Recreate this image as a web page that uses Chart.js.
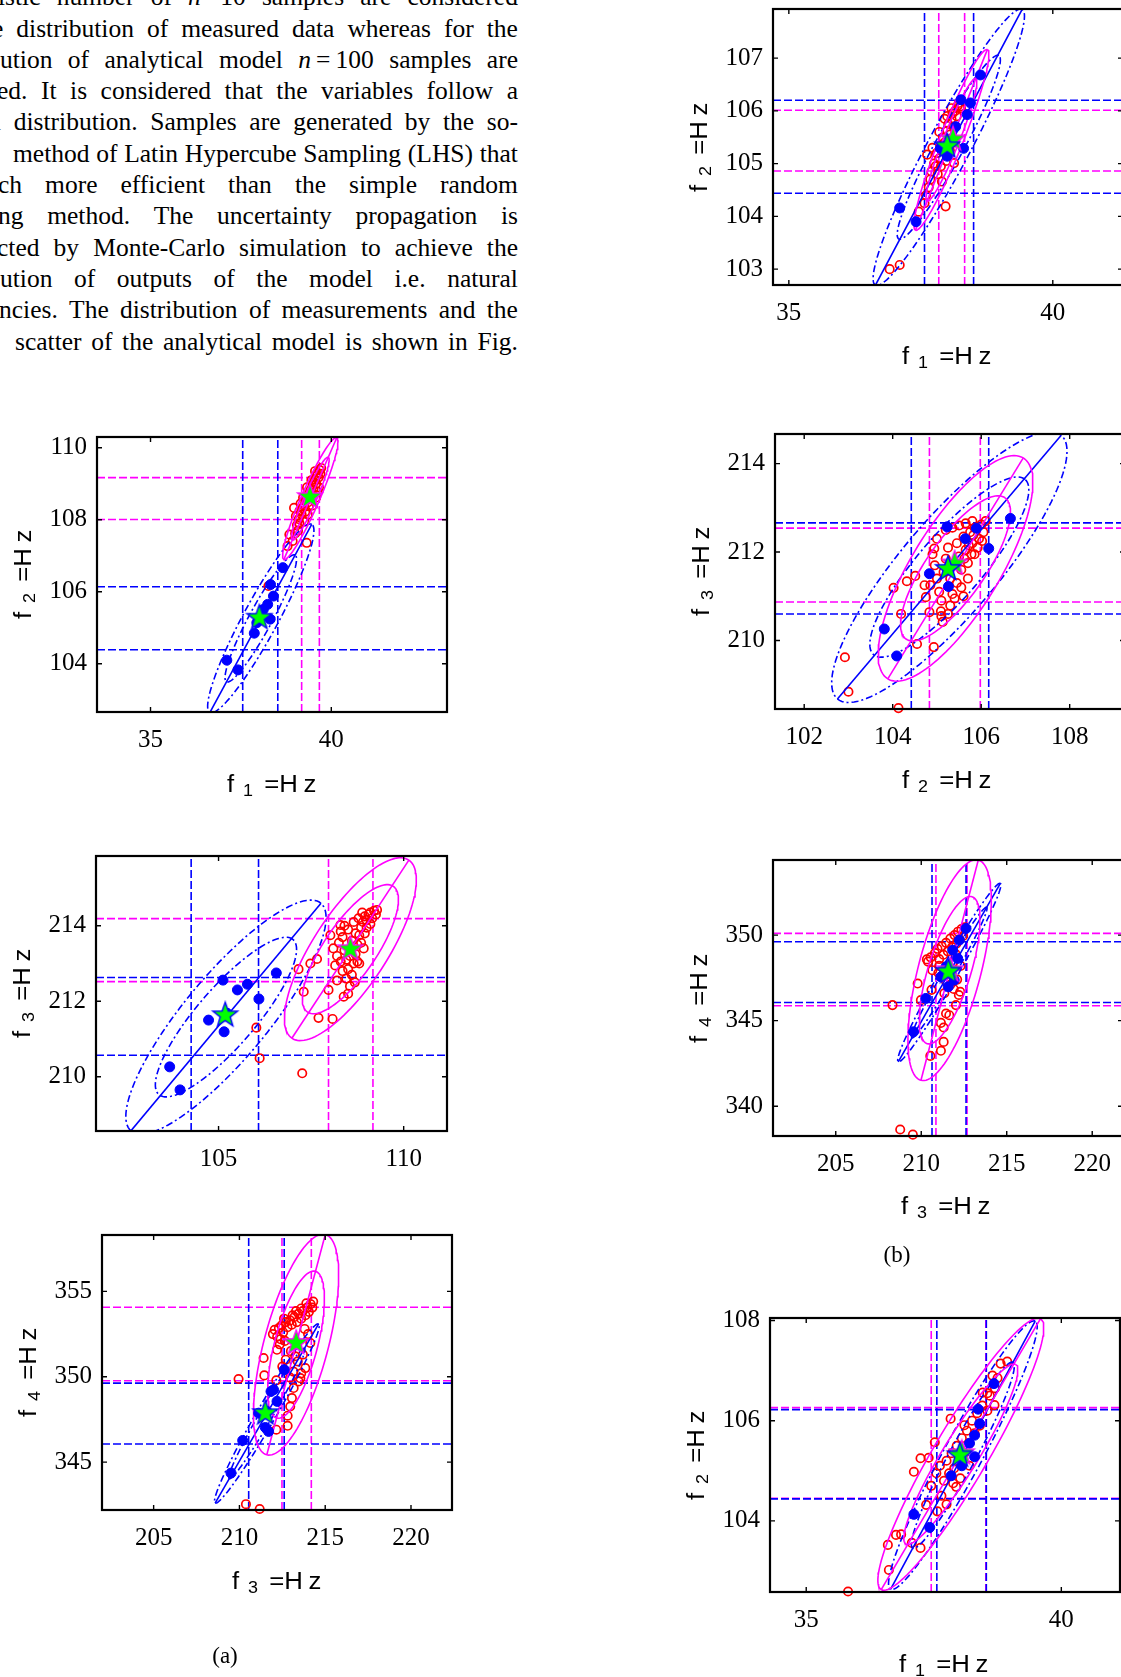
<!DOCTYPE html>
<html>
<head>
<meta charset="utf-8">
<script src="https://cdn.jsdelivr.net/npm/chart.js@4.4.1/dist/chart.umd.min.js"></script>
<style>
  body { margin: 0; width: 1121px; height: 1677px; position: relative; overflow: hidden; background: #fff;
         font-family: "Liberation Serif", "Times New Roman", serif; color: #000; }
  .ln { position: absolute; display: flex; justify-content: space-between; font-size: 25.5px;
        line-height: 31.3px; height: 31.3px; white-space: nowrap; }
  .cv { position: absolute; }
  .ttl { position: absolute; font-family: "Liberation Sans", Arial, sans-serif; font-size: 23px;
         line-height: 23px; white-space: nowrap; }
  .sb { font-size: 16px; margin-left: 8px; position: relative; top: 4px; }
  .cap { position: absolute; font-size: 23px; line-height: 23px; transform: translateX(-50%); }
</style>
</head>
<body>
<script>
// ---- (a) f1 vs f2 ----
const a1XRange = [33.52, 43.2];
const a1YRange = [102.66, 110.3];
const a1XTicks = [35, 40];
const a1YTicks = [104, 106, 108, 110];
const a1Blue = [[37.11,104.10],[37.42,103.83],[37.87,104.85],[38.24,105.65],[38.40,105.88],[38.32,106.20],[38.31,105.24],[38.66,106.67],[37.94,105.14],[38.12,105.51]];
const a1Red = [[38.97,108.33],[38.84,107.59],[38.93,107.41],[38.79,107.27],[39.32,107.36],[38.26,106.16],
  [39.05,107.85],[39.10,108.02],[39.12,107.90],[39.18,108.15],[39.20,108.32],[39.25,108.40],[39.28,108.22],[39.30,108.55],
  [39.35,108.48],[39.38,108.70],[39.40,108.60],[39.42,108.82],[39.45,108.75],[39.48,108.95],[39.50,108.85],[39.52,109.05],
  [39.55,109.12],[39.58,109.00],[39.60,109.22],[39.62,109.30],[39.65,109.18],[39.68,109.38],[39.70,109.28],[39.72,109.44],
  [39.15,108.45],[39.22,108.62],[39.33,108.90],[39.45,109.10],[39.55,109.35],[39.08,107.70],[39.00,107.62],[39.25,107.95],
  [39.35,108.15],[39.48,108.40],[39.58,108.62],[39.66,108.90],[39.02,108.10],[39.12,108.25],[39.38,108.38],[39.62,108.78]];
const a1Stars = [[38.01,105.28],[39.41,108.63]];
const a1BlueEll = [[38.05,105.26,2.97,0.48,61.7],[38.05,105.26,2.0,0.32,61.7]];
const a1MagEll = [[39.42,108.59,1.84,0.25,66.6],[39.42,108.59,1.25,0.17,66.6]];
const a1BlueV = [37.55, 38.52], a1BlueH = [104.39, 106.14];
const a1MagV = [39.18, 39.67], a1MagH = [108.01, 109.17];

// ---- (a) f2 vs f3 ----
const a2XRange = [101.69, 111.17];
const a2YRange = [208.56, 215.85];
const a2XTicks = [105, 110];
const a2YTicks = [210, 212, 214];
const a2Blue = [[103.68,210.26],[103.96,209.65],[104.73,211.50],[105.12,212.56],[105.15,211.19],[105.51,212.30],[105.78,212.45],[106.09,212.06],[106.56,212.75],[105.23,211.68]];
const a2Red = [[106.02,211.30],[106.11,210.49],[107.26,210.09],[107.16,212.85],[107.30,212.25],[107.70,211.56],[108.08,211.53],
  [107.97,212.30],[107.48,213.00],[107.66,213.12],[108.02,213.75],[108.29,214.02],[108.38,212.12],
  [108.10,213.40],[108.20,213.20],[108.15,212.95],[108.30,213.05],[108.25,213.55],[108.35,213.70],[108.40,213.35],[108.45,213.10],
  [108.50,212.85],[108.45,212.60],[108.55,212.40],[108.60,212.70],[108.65,213.00],[108.70,213.25],[108.75,213.50],[108.80,213.75],
  [108.85,213.95],[108.90,214.10],[108.95,214.25],[109.00,214.15],[109.05,214.30],[109.10,214.35],[109.15,214.20],[109.20,214.40],
  [109.25,214.30],[109.28,214.42],[108.70,213.80],[108.60,213.60],[108.50,213.90],[108.40,214.00],[108.30,213.85],[108.85,213.55],
  [108.95,213.80],[109.00,213.95],[108.65,214.10],[108.78,214.20],[108.88,214.35],[108.75,213.05],[108.55,213.20],[108.35,212.80],
  [108.20,212.55],[108.50,212.20],[108.68,212.50],[108.80,213.00],[108.92,213.40],[109.10,214.05]];
const a2Stars = [[105.18,211.63],[108.56,213.38]];
const a2BlueEll = [[105.2,211.58,3.96,1.12,49.6],[105.2,211.58,2.74,0.78,48.5]];
const a2MagEll = [[108.56,213.38,2.84,0.99,56.2],[108.56,213.38,2.03,0.70,55]];
const a2BlueV = [104.26, 106.08], a2BlueH = [210.57, 212.63];
const a2MagV = [107.97, 109.17], a2MagH = [212.52, 214.19];

// ---- (a) f3 vs f4 ----
const a3XRange = [201.99, 222.39];
const a3YRange = [342.2, 358.3];
const a3XTicks = [205, 210, 215, 220];
const a3YTicks = [345, 350, 355];
const a3Blue = [[209.51,344.36],[210.19,346.27],[211.51,347.03],[211.99,349.24],[212.19,348.56],[212.61,350.41],[211.60,347.97],[211.84,349.14],[211.12,347.87],[211.70,346.80]];
const a3Red = [[209.95,349.87],[210.38,342.54],[211.18,342.26],[211.41,351.10],[211.45,350.08],[212.19,351.58],[212.15,349.79],
  [212.81,347.72],[212.81,347.13],[212.15,346.90],[213.84,350.51],[213.55,349.92],[214.13,351.98],
  [211.95,352.50],[212.05,352.75],[212.20,352.35],[212.30,352.85],[212.45,353.00],[212.55,352.60],[212.70,353.20],[212.80,352.90],
  [212.95,353.30],[213.05,353.05],[213.20,353.50],[213.35,353.20],[213.45,353.70],[213.60,353.40],[213.70,353.85],[213.85,353.60],
  [213.95,354.05],[214.05,353.80],[214.15,354.25],[214.25,354.05],[214.30,354.40],[213.90,354.30],[213.60,354.00],[213.30,353.85],
  [213.10,353.60],[212.60,353.40],[212.40,352.20],[212.65,352.10],[213.00,351.50],[213.25,351.20],[213.40,350.90],[213.70,351.30],
  [213.15,350.30],[212.95,349.95],[213.16,349.34],[213.45,349.73],[213.06,348.75],[212.96,348.26],[213.60,350.20],[212.70,351.00],
  [212.50,350.60],[213.80,352.80],[214.00,352.50],[212.35,351.90]];
const a3Stars = [[211.51,347.87],[213.31,351.98]];
const a3BlueEll = [[211.6,347.85,6.05,0.55,60.1],[211.6,347.85,4.4,0.38,60.1]];
const a3MagEll = [[213.3,351.88,6.67,1.87,75.2],[213.3,351.88,4.44,1.25,75.3]];
const a3BlueV = [210.54, 212.61], a3BlueH = [346.06, 349.63];
const a3MagV = [212.48, 214.19], a3MagH = [349.77, 354.07];

// ---- (b) f1 vs f2 ----
const b1XRange = [34.7, 41.33];
const b1YRange = [102.7, 107.93];
const b1XTicks = [35, 40];
const b1YTicks = [103, 104, 105, 106, 107];
const b1Blue = [[37.10,104.16],[37.41,103.90],[38.63,106.68],[38.44,106.15],[38.38,105.93],[38.26,106.21],[37.87,105.29],[38.00,105.14],[38.16,105.70],[38.31,105.29]];
const b1Red = [[36.91,103.00],[37.10,103.08],[37.46,104.09],[37.57,104.25],[37.97,104.19],[37.90,104.66],[37.62,105.17],[38.13,105.01],[38.24,106.08],
  [37.70,104.85],[37.75,105.00],[37.80,105.20],[37.85,105.10],[37.88,105.35],[37.92,105.50],[37.95,105.40],[38.00,105.62],
  [38.02,105.75],[38.05,105.55],[38.08,105.85],[38.10,105.95],[38.12,105.70],[38.15,106.00],[38.18,105.90],[38.20,106.10],
  [38.22,106.15],[38.26,106.05],[37.78,104.95],[37.68,104.70],[37.65,104.55],[37.82,104.80],[37.98,105.05],[38.05,105.25],
  [37.72,105.30],[37.85,105.60],[37.95,105.85],[38.15,105.40],[37.60,104.40],[37.88,104.95],[38.00,105.90],[38.08,106.05]];
const b1Stars = [[38.00,105.33],[38.11,105.46]];
const b1BlueEll = [[38.03,105.31,2.96,0.40,62],[38.03,105.31,1.98,0.27,61.4]];
const b1MagEll = [[38.08,105.45,1.84,0.22,68.3],[38.08,105.45,1.25,0.15,68.3]];
const b1BlueV = [37.57, 38.50], b1BlueH = [104.44, 106.20];
const b1MagV = [37.84, 38.33], b1MagH = [104.86, 106.01];

// ---- (b) f2 vs f3 ----
const b2XRange = [101.34, 109.25];
const b2YRange = [208.45, 214.67];
const b2XTicks = [102, 104, 106, 108];
const b2YTicks = [210, 212, 214];
const b2Blue = [[103.81,210.26],[104.09,209.65],[104.83,211.51],[105.23,212.57],[105.26,211.22],[105.64,212.30],[106.17,212.08],[106.66,212.76],[105.89,212.54],[105.28,211.68]];
const b2Red = [[102.92,209.62],[103.00,208.84],[104.13,208.47],[104.02,211.19],[104.32,211.34],[104.19,210.60],[104.55,209.92],
  [104.93,209.85],[104.51,211.46],[104.72,211.25],[104.83,210.64],[105.09,210.66],[105.13,210.42],[105.30,210.79],[104.75,210.98],[104.94,212.08],
  [104.90,211.95],[104.95,211.70],[105.00,211.40],[105.05,211.10],[105.10,210.90],[105.15,211.55],[105.20,211.85],[105.25,212.10],
  [105.30,211.40],[105.35,211.05],[105.40,211.75],[105.45,212.20],[105.50,211.90],[105.55,211.60],[105.60,212.35],[105.65,212.05],
  [105.70,211.75],[105.75,212.45],[105.80,212.20],[105.85,211.95],[105.90,212.55],[105.95,212.30],[106.00,212.62],[106.05,212.45],
  [106.10,212.70],[105.20,212.50],[105.35,212.55],[105.50,212.60],[105.65,212.65],[105.80,212.70],[105.10,210.55],[105.25,210.60],
  [105.40,210.95],[105.55,211.20],[105.70,211.40],[105.00,212.30],[104.85,211.25],[105.45,211.30],[105.60,211.00],[105.85,212.55],
  [105.72,212.15],[105.82,212.38],[105.92,212.10],[106.02,212.25],[105.62,211.85],[105.78,211.95]];
const b2Stars = [[105.25,211.62],[105.40,211.74]];
const b2BlueEll = [[105.28,211.66,3.91,1.08,49.7],[105.28,211.66,2.62,0.72,49.2]];
const b2MagEll = [[105.42,211.63,2.93,0.99,58.5],[105.42,211.63,1.95,0.66,55]];
const b2BlueV = [104.42, 106.17], b2BlueH = [210.60, 212.66];
const b2MagV = [104.83, 105.98], b2MagH = [210.87, 212.54];

// ---- (b) f3 vs f4 ----
const b3XRange = [201.33, 221.8];
const b3YRange = [338.26, 354.39];
const b3XTicks = [205, 210, 215, 220];
const b3YTicks = [340, 345, 350];
const b3Blue = [[209.55,344.35],[210.27,346.30],[211.58,346.98],[211.84,349.12],[212.13,348.64],[212.62,350.39],[211.45,348.15],[211.93,347.37],[211.15,347.56],[212.23,349.71]];
const b3Red = [[208.32,345.91],[208.77,338.64],[209.51,338.34],[209.79,347.17],[210.53,342.94],[211.15,343.24],[211.31,343.76],
  [211.15,344.87],[211.31,344.60],[211.64,345.32],[211.45,345.42],[212.28,346.69],[212.03,345.91],[210.33,348.58],[209.98,346.20],
  [210.40,348.45],[210.55,348.70],[210.80,348.95],[210.95,349.20],[211.05,348.60],[211.20,349.35],[211.30,348.85],[211.45,349.55],
  [211.55,349.05],[211.70,349.80],[211.80,349.30],[211.95,350.00],[212.05,349.50],[212.15,350.20],[212.25,349.75],[212.35,350.35],
  [212.45,349.95],[212.55,350.45],[211.00,347.80],[211.20,347.60],[211.45,347.30],[211.70,347.10],[211.90,346.85],[212.10,347.40],
  [212.20,346.50],[211.05,348.20],[210.65,347.95],[211.85,348.40],[212.00,348.90],[212.30,348.20],[210.60,346.80],[211.35,346.60]];
const b3Stars = [[211.58,347.86],[211.70,347.95]];
const b3BlueEll = [[211.64,347.81,6.01,0.5,60.2],[211.64,347.81,4.4,0.35,60.2]];
const b3MagEll = [[211.66,347.95,6.65,1.83,75.4],[211.66,347.95,4.49,1.25,73]];
const b3BlueV = [210.63, 212.62], b3BlueH = [346.06, 349.61];
const b3MagV = [210.86, 212.68], b3MagH = [345.87, 350.10];

// ---- (c) f1 vs f2 ----
const cXRange = [34.29, 41.15];
const cYRange = [102.58, 108.05];
const cXTicks = [35, 40];
const cYTicks = [104, 106, 108];
const cBlue = [[37.11,104.13],[37.42,103.87],[38.68,106.74],[38.37,106.23],[38.40,105.94],[38.30,105.71],[38.30,105.28],[37.84,104.90],[38.20,105.55],[38.05,105.10]];
const cRed = [[35.82,102.59],[36.60,103.52],[36.62,103.02],[36.76,103.72],[36.86,103.73],[37.07,103.56],[37.24,103.46],[37.11,104.98],
  [37.24,105.25],[37.40,105.26],[37.35,104.32],[37.57,104.19],[37.52,105.57],[37.83,106.04],[37.75,104.33],[38.81,107.14],[38.94,107.18],
  [38.69,106.31],[38.10,105.91],[38.46,106.56],[37.94,104.68],
  [37.55,104.95],[37.62,105.10],[37.70,104.80],[37.75,105.20],[37.80,104.95],[37.85,105.35],[37.90,105.05],[37.95,105.50],
  [38.00,105.15],[38.05,105.65],[38.10,105.35],[38.15,105.80],[38.20,105.55],[38.25,106.00],[38.30,105.75],[38.35,106.15],
  [38.40,105.90],[38.45,106.30],[38.55,106.20],[38.60,106.50],[38.70,106.65],[38.75,106.85],[37.88,104.75],[38.02,104.85],
  [37.65,104.50],[38.20,105.10],[38.55,106.55],[38.65,106.90],[37.45,104.70]];
const cStars = [[38.01,105.31],[38.05,105.35]];
const cBlueEll = [[38.07,105.31,3.03,0.38,62.1],[38.07,105.31,2.1,0.26,62.1]];
const cMagEll = [[38.03,105.33,3.12,0.53,60],[38.03,105.33,2.09,0.35,59]];
const cBlueV = [37.56, 38.53], cBlueH = [104.44, 106.22];
const cMagV = [37.45, 38.52], cMagH = [104.45, 106.26];

// ---- text of the page ----
const textLines = [
  ['istic','number','of','<i>n</i>&#8201;=10','samples','are','considered'],
  ['e','distribution','of','measured','data','whereas','for','the'],
  ['ution','of','analytical','model','<i>n</i>&#8201;=&#8201;100','samples','are'],
  ['ed.','It','is','considered','that','the','variables','follow','a'],
  ['l','distribution.','Samples','are','generated','by','the','so-'],
  ['method','of','Latin','Hypercube','Sampling','(LHS)','that'],
  ['ch','more','efficient','than','the','simple','random'],
  ['ng','method.','The','uncertainty','propagation','is'],
  ['cted','by','Monte-Carlo','simulation','to','achieve','the'],
  ['ution','of','outputs','of','the','model','i.e.','natural'],
  ['ncies.','The','distribution','of','measurements','and','the'],
  ['scatter','of','the','analytical','model','is','shown','in','Fig.']
];
const lineStarts = [-2, -8, 0, -3, -6, 13, -2, -2, -3, 0, -1, 15];

const BLUE = '#0000ff', MAG = '#ff00ff', RED = '#ff0000';
const SERIF = "'Liberation Serif', 'Times New Roman', serif";
const PL = 90, PR = 30, PT = 30, PB = 60;
const TITLE_STRETCH = 1.12;

textLines.forEach((words, i) => {
  const d = document.createElement('div');
  d.className = 'ln';
  d.style.left = lineStarts[i] + 'px';
  d.style.width = (518 - lineStarts[i]) + 'px';
  d.style.top = (-18.8 + 31.3 * i) + 'px';
  d.innerHTML = words.map(w => `<span>${w}</span>`).join('');
  document.body.appendChild(d);
});

function makeStar(edge) {
  const c = document.createElement('canvas');
  c.width = c.height = 30;
  const g = c.getContext('2d');
  g.beginPath();
  for (let i = 0; i < 10; i++) {
    const r = i % 2 ? 5.3 : 13, ang = -Math.PI / 2 + i * Math.PI / 5;
    g.lineTo(15 + r * Math.cos(ang), 15 + r * Math.sin(ang));
  }
  g.closePath();
  g.fillStyle = '#00ff00';
  g.fill();
  g.strokeStyle = edge;
  g.lineWidth = 1.4;
  g.stroke();
  return c;
}
const blueStar = makeStar(BLUE), magStar = makeStar(MAG);

function ellipsePts(e) {
  const [cx, cy, a, b, deg] = e;
  const th = deg * Math.PI / 180, pts = [];
  for (let i = 0; i <= 120; i++) {
    const t = i / 120 * 2 * Math.PI;
    pts.push({
      x: cx + a * Math.cos(t) * Math.cos(th) - b * Math.sin(t) * Math.sin(th),
      y: cy + a * Math.cos(t) * Math.sin(th) + b * Math.sin(t) * Math.cos(th)
    });
  }
  return pts;
}

function axisPts(e) {
  const [cx, cy, a, , deg] = e;
  const th = deg * Math.PI / 180;
  return [{ x: cx - a * Math.cos(th), y: cy - a * Math.sin(th) }, { x: cx + a * Math.cos(th), y: cy + a * Math.sin(th) }];
}

const toXY = arr => arr.map(p => ({ x: p[0], y: p[1] }));

function buildDatasets(p) {
  const ds = [];
  const line = { showLine: true, pointRadius: 0, borderWidth: 1.6, clip: 0, tension: 0, fill: false };
  p.bV.forEach(v => ds.push({ ...line, order: 6, borderColor: BLUE, borderDash: [8, 3], data: [{ x: v, y: p.yr[0] }, { x: v, y: p.yr[1] }] }));
  p.bH.forEach(v => ds.push({ ...line, order: 6, borderColor: BLUE, borderDash: [8, 3], data: [{ x: p.xr[0], y: v }, { x: p.xr[1], y: v }] }));
  p.mV.forEach(v => ds.push({ ...line, order: 6, borderColor: MAG, borderDash: [8, 3], data: [{ x: v, y: p.yr[0] }, { x: v, y: p.yr[1] }] }));
  p.mH.forEach(v => ds.push({ ...line, order: 6, borderColor: MAG, borderDash: [8, 3], data: [{ x: p.xr[0], y: v }, { x: p.xr[1], y: v }] }));

  ds.push({ order: 5, data: toXY(p.red), pointRadius: 4.2, pointBorderWidth: 1.7, pointBorderColor: RED,
            pointBackgroundColor: 'rgba(0,0,0,0)', clip: false });

  p.bEll.forEach(e => ds.push({ ...line, order: 4, borderColor: BLUE, borderDash: [7, 3, 2, 3], data: ellipsePts(e) }));
  ds.push({ ...line, order: 4, borderColor: BLUE, data: axisPts(p.bEll[0]) });
  p.mEll.forEach(e => ds.push({ ...line, order: 3, borderColor: MAG, data: ellipsePts(e) }));
  ds.push({ ...line, order: 3, borderColor: MAG, data: axisPts(p.mEll[0]) });

  ds.push({ order: 2, data: toXY(p.blue), pointRadius: 5, pointBorderWidth: 1, pointBorderColor: BLUE,
            pointBackgroundColor: BLUE, clip: false });
  ds.push({ order: 1, data: toXY(p.stars.slice(1)), pointRadius: 12, pointStyle: magStar, clip: false });
  ds.push({ order: 0, data: toXY(p.stars.slice(0, 1)), pointRadius: 12, pointStyle: blueStar, clip: false });
  return ds;
}

const framePlugin = {
  id: 'frame',
  afterDatasetsDraw(chart) {
    const { ctx, chartArea: a, scales: { x, y } } = chart;
    ctx.save();
    ctx.strokeStyle = '#000';
    ctx.lineWidth = 1.4;
    ctx.beginPath();
    x.ticks.forEach(t => {
      const px = x.getPixelForValue(t.value);
      ctx.moveTo(px, a.bottom); ctx.lineTo(px, a.bottom - 5);
      ctx.moveTo(px, a.top); ctx.lineTo(px, a.top + 5);
    });
    y.ticks.forEach(t => {
      const py = y.getPixelForValue(t.value);
      ctx.moveTo(a.left, py); ctx.lineTo(a.left + 5, py);
      ctx.moveTo(a.right, py); ctx.lineTo(a.right - 5, py);
    });
    ctx.stroke();
    ctx.lineWidth = 2.2;
    ctx.strokeRect(a.left, a.top, a.right - a.left, a.bottom - a.top);
    ctx.restore();
  }
};

function drawPlot(p) {
  const [bl, bt, bw, bh] = p.box;
  const cv = document.createElement('canvas');
  cv.className = 'cv';
  cv.width = bw + PL + PR;
  cv.height = bh + PT + PB;
  cv.style.left = (bl - PL) + 'px';
  cv.style.top = (bt - PT) + 'px';
  document.body.appendChild(cv);
  const tickFont = { family: SERIF, size: 25 };
  new Chart(cv, {
    type: 'scatter',
    data: { datasets: buildDatasets(p) },
    options: {
      responsive: false, animation: false, events: [],
      layout: { padding: { top: PT, right: PR, left: 0, bottom: 0 } },
      plugins: { legend: { display: false }, tooltip: { enabled: false } },
      scales: {
        x: {
          type: 'linear', min: p.xr[0], max: p.xr[1],
          afterBuildTicks: s => { s.ticks = p.xt.map(v => ({ value: v })); },
          afterFit: s => { s.height = PB; },
          grid: { display: false, drawTicks: false }, border: { display: false },
          ticks: { color: '#000', font: tickFont, padding: 13, maxRotation: 0, autoSkip: false }
        },
        y: {
          type: 'linear', min: p.yr[0], max: p.yr[1],
          afterBuildTicks: s => { s.ticks = p.yt.map(v => ({ value: v })); },
          afterFit: s => { s.width = PL; },
          grid: { display: false, drawTicks: false }, border: { display: false },
          ticks: { color: '#000', font: tickFont, padding: 10, autoSkip: false }
        }
      }
    },
    plugins: [framePlugin]
  });
  if (p.xTitle) addTitle(p.xTitle[0], p.xTitle[1], p.xTitle[2], false);
  addTitle(p.yTitle, bt + bh / 2, bl - 66, true);
}

function addTitle(sub, c, baseline, rotated) {
  const d = document.createElement('div');
  d.className = 'ttl';
  d.innerHTML = `f<span class="sb">${sub}</span><span style="margin-left:10px">=H</span><span style="margin-left:5px">z</span>`;
  document.body.appendChild(d);
  const w = d.offsetWidth;
  d.style.transformOrigin = '0 0';
  if (!rotated) {
    d.style.left = (c - w * TITLE_STRETCH / 2) + 'px';
    d.style.top = (baseline - 19.5) + 'px';
    d.style.transform = `scaleX(${TITLE_STRETCH})`;
  } else {
    d.style.left = (baseline - 19.5) + 'px';
    d.style.top = (c + w * TITLE_STRETCH / 2) + 'px';
    d.style.transform = `rotate(-90deg) scaleX(${TITLE_STRETCH})`;
  }
}

function addCaption(text, cx, baseline) {
  const d = document.createElement('div');
  d.className = 'cap';
  d.textContent = text;
  d.style.left = cx + 'px';
  d.style.top = (baseline - 19.3) + 'px';
  document.body.appendChild(d);
}

const plots = [
  { box: [97, 437, 350, 275], xr: a1XRange, yr: a1YRange, xt: a1XTicks, yt: a1YTicks, blue: a1Blue, red: a1Red, stars: a1Stars,
    bEll: a1BlueEll, mEll: a1MagEll, bV: a1BlueV, bH: a1BlueH, mV: a1MagV, mH: a1MagH, xTitle: ['1', 272, 792], yTitle: '2' },
  { box: [96, 856, 351, 275], xr: a2XRange, yr: a2YRange, xt: a2XTicks, yt: a2YTicks, blue: a2Blue, red: a2Red, stars: a2Stars,
    bEll: a2BlueEll, mEll: a2MagEll, bV: a2BlueV, bH: a2BlueH, mV: a2MagV, mH: a2MagH, xTitle: null, yTitle: '3' },
  { box: [102, 1235, 350, 275], xr: a3XRange, yr: a3YRange, xt: a3XTicks, yt: a3YTicks, blue: a3Blue, red: a3Red, stars: a3Stars,
    bEll: a3BlueEll, mEll: a3MagEll, bV: a3BlueV, bH: a3BlueH, mV: a3MagV, mH: a3MagH, xTitle: ['3', 277, 1589], yTitle: '4' },
  { box: [773, 9, 350, 276], xr: b1XRange, yr: b1YRange, xt: b1XTicks, yt: b1YTicks, blue: b1Blue, red: b1Red, stars: b1Stars,
    bEll: b1BlueEll, mEll: b1MagEll, bV: b1BlueV, bH: b1BlueH, mV: b1MagV, mH: b1MagH, xTitle: ['1', 947, 364], yTitle: '2' },
  { box: [775, 434, 350, 275], xr: b2XRange, yr: b2YRange, xt: b2XTicks, yt: b2YTicks, blue: b2Blue, red: b2Red, stars: b2Stars,
    bEll: b2BlueEll, mEll: b2MagEll, bV: b2BlueV, bH: b2BlueH, mV: b2MagV, mH: b2MagH, xTitle: ['2', 947, 788], yTitle: '3' },
  { box: [773, 860, 350, 276], xr: b3XRange, yr: b3YRange, xt: b3XTicks, yt: b3YTicks, blue: b3Blue, red: b3Red, stars: b3Stars,
    bEll: b3BlueEll, mEll: b3MagEll, bV: b3BlueV, bH: b3BlueH, mV: b3MagV, mH: b3MagH, xTitle: ['3', 946, 1214], yTitle: '4' },
  { box: [770, 1318, 350, 274], xr: cXRange, yr: cYRange, xt: cXTicks, yt: cYTicks, blue: cBlue, red: cRed, stars: cStars,
    bEll: cBlueEll, mEll: cMagEll, bV: cBlueV, bH: cBlueH, mV: cMagV, mH: cMagH, xTitle: ['1', 944, 1672], yTitle: '2' }
];

plots.forEach(drawPlot);
addCaption('(a)', 225, 1663);
addCaption('(b)', 897, 1262);
</script>
</body>
</html>
